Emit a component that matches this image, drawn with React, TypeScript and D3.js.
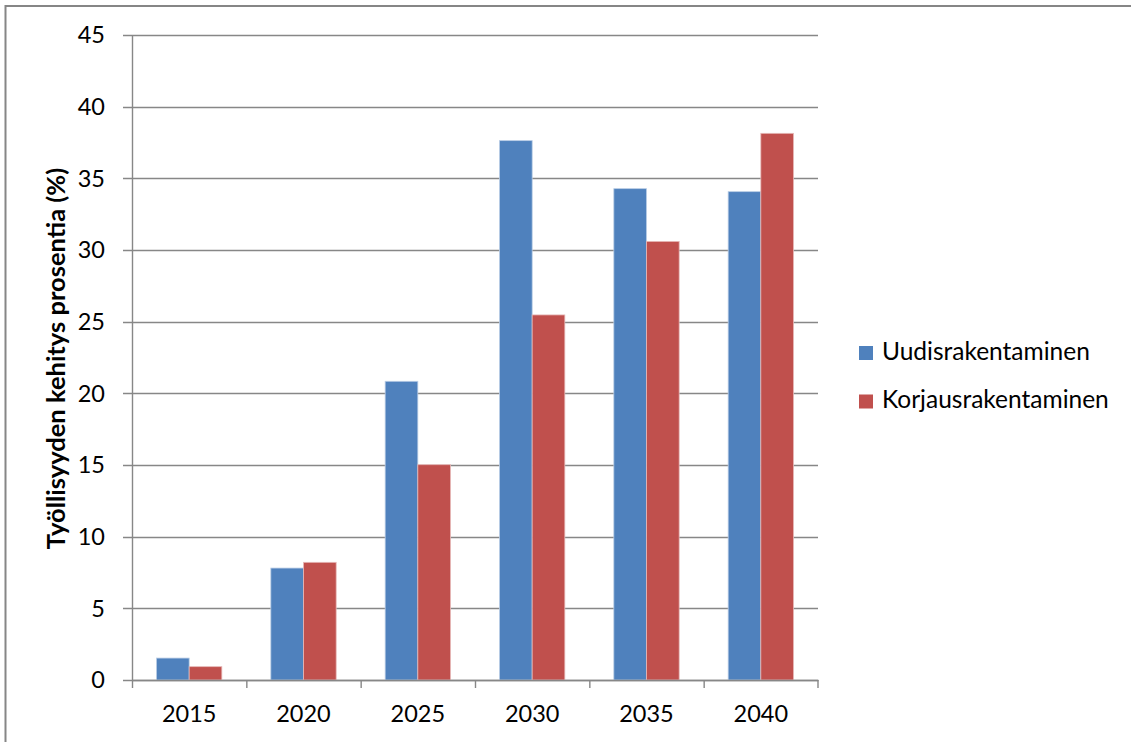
import React from "react";
import * as d3 from "d3";

const categories = ["2015", "2020", "2025", "2030", "2035", "2040"];
const uudis = [1.53, 7.81, 20.84, 37.63, 34.28, 34.07];
const korjaus = [0.93, 8.21, 15.02, 25.47, 30.6, 38.14];
const seriesNames = ["Uudisrakentaminen", "Korjausrakentaminen"];
const seriesColors = ["#4F81BD", "#C0504D"];
const yTicks = [0, 5, 10, 15, 20, 25, 30, 35, 40, 45];
const yTitle = "Työllisyyden kehitys prosentia (%)";

export default function App() {
  const W = 1131, H = 742;
  const left = 132, right = 818, top = 35, bottom = 680;
  const font = "Lato, 'Open Sans', sans-serif";
  const x = d3.scaleBand().domain(categories).range([left, right]).paddingInner(0).paddingOuter(0);
  const y = d3.scaleLinear().domain([0, 45]).range([bottom, top]);
  const step = x.bandwidth();
  const barW = step / 3.5;
  const groupOffset = (step - 2 * barW) / 2;
  const sub = d3.scaleBand().domain(["0", "1"]).range([0, 2 * barW]);
  const series = [uudis, korjaus];
  const strokes = ["#B9CDE5", "#E6B9B8"];

  return (
    <svg width={W} height={H} style={{ position: "absolute", left: 0, top: 0, background: "#fff" }}>
      <rect x={5.5} y={6} width={W + 10} height={H + 10} fill="#fff" stroke="#868686" strokeWidth={2} />
      {yTicks.map((t) => (
        <g key={t}>
          <line x1={123} x2={right} y1={Math.round(y(t)) + 0.5} y2={Math.round(y(t)) + 0.5} stroke="#878787" strokeWidth={1.4} />
          <text x={105} y={y(t)} dy="0.36em" textAnchor="end" fontFamily={font} fontSize={23.5} fill="#000">
            {t}
          </text>
        </g>
      ))}
      <line x1={left + 0.5} x2={left + 0.5} y1={top} y2={bottom} stroke="#878787" strokeWidth={1.4} />
      {categories.map((c, i) => (
        <g key={c}>
          {series.map((s, j) => (
            <rect
              key={j}
              x={(x(c) as number) + groupOffset + (sub(String(j)) as number)}
              y={y(s[i])}
              width={barW}
              height={y(0) - y(s[i])}
              fill={seriesColors[j]}
              stroke={strokes[j]}
              strokeWidth={0.8}
            />
          ))}
        </g>
      ))}
      {categories.map((c, i) => (
        <line key={"t" + i} x1={(x(c) as number) + 0.5} x2={(x(c) as number) + 0.5} y1={bottom} y2={bottom + 8} stroke="#878787" strokeWidth={1.4} />
      ))}
      <line x1={right} x2={right} y1={bottom} y2={bottom + 8} stroke="#878787" strokeWidth={1.4} />
      <line x1={left} x2={right + 0.5} y1={bottom + 0.5} y2={bottom + 0.5} stroke="#878787" strokeWidth={1.4} />
      {categories.map((c) => (
        <text key={"l" + c} x={(x(c) as number) + step / 2} y={721.5} textAnchor="middle" fontFamily={font} fontSize={23.5} fill="#000">
          {c}
        </text>
      ))}
      <text
        transform={`translate(65, ${(166 + 551) / 2}) rotate(-90)`}
        textAnchor="middle"
        fontFamily={font}
        fontWeight="bold"
        fontSize={25.5}
        fill="#000"
      >
        {yTitle}
      </text>
      {seriesNames.map((n, j) => (
        <g key={n}>
          <rect x={859} y={346 + j * 48.5} width={14} height={14} fill={seriesColors[j]} />
          <text x={882} y={359.5 + j * 48.5} fontFamily={font} fontSize={24.5} fill="#000">
            {n}
          </text>
        </g>
      ))}
    </svg>
  );
}
